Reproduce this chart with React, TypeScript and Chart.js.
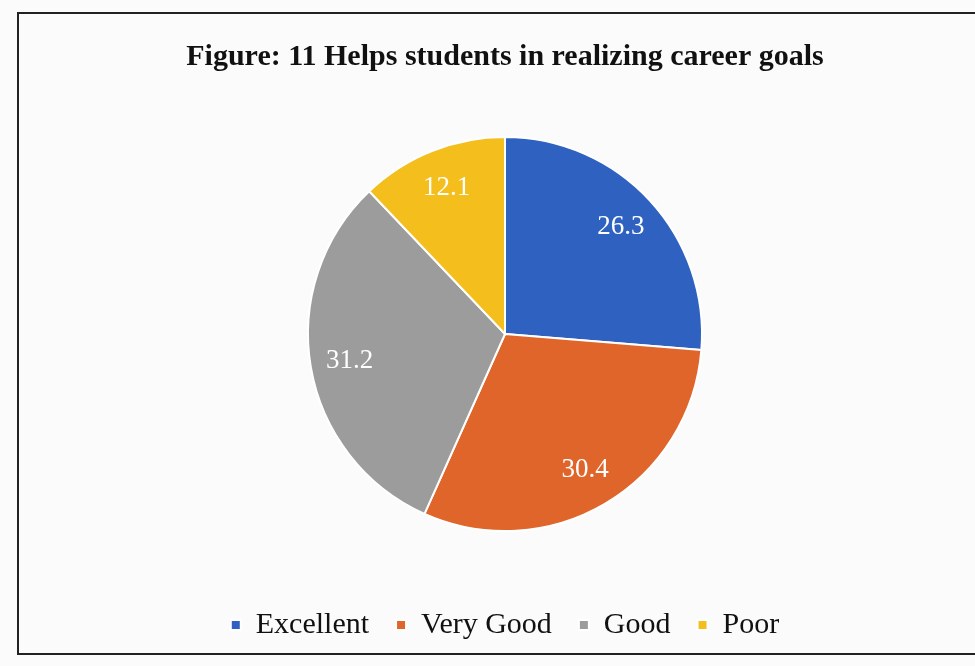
import React, { useEffect, useRef } from "react";
import { Chart, registerables } from "chart.js";

Chart.register(...registerables);

const TITLE = "Figure: 11 Helps students in realizing career goals";
const categories = ["Excellent", "Very Good", "Good", "Poor"];
const values = [26.3, 30.4, 31.2, 12.1];
const colors = ["#2f62c0", "#e0652a", "#9c9c9c", "#f4be1c"];

const labelPlugin = {
  id: "sliceLabels",
  afterDatasetsDraw(chart: any) {
    const ctx = chart.ctx;
    const meta = chart.getDatasetMeta(0);
    ctx.save();
    ctx.fillStyle = "#ffffff";
    ctx.font = "27px 'Liberation Serif', 'Times New Roman', serif";
    ctx.textAlign = "center";
    ctx.textBaseline = "middle";
    meta.data.forEach((arc: any, i: number) => {
      const p = arc.getProps(["x", "y", "startAngle", "endAngle", "outerRadius"], true);
      const mid = (p.startAngle + p.endAngle) / 2;
      const r = p.outerRadius * 0.8;
      ctx.fillText(String(values[i]), p.x + Math.cos(mid) * r, p.y + Math.sin(mid) * r);
    });
    ctx.restore();
  },
};

export default function App() {
  const ref = useRef<HTMLCanvasElement>(null);
  useEffect(() => {
    if (!ref.current) return;
    const chart = new Chart(ref.current, {
      type: "pie",
      data: {
        labels: categories,
        datasets: [
          {
            data: values,
            backgroundColor: colors,
            borderColor: "#ffffff",
            borderWidth: 2,
          },
        ],
      },
      options: {
        responsive: false,
        animation: false,
        radius: 197,
        layout: { padding: { left: 35, right: 0, top: 0, bottom: 16 } },
        plugins: {
          tooltip: { enabled: false },
          title: {
            display: true,
            text: TITLE,
            color: "#111",
            font: { family: "'Liberation Serif', 'Times New Roman', serif", size: 30, weight: "bold", lineHeight: 1.0 },
            padding: { top: 42, bottom: 13 },
          },
          legend: {
            position: "bottom",
            labels: {
              color: "#111",
              boxWidth: 10,
              boxHeight: 10,
              padding: 27,
              font: { family: "'Liberation Serif', 'Times New Roman', serif", size: 30 },
            },
          },
        },
      } as any,
      plugins: [labelPlugin],
    });
    return () => chart.destroy();
  }, []);
  return (
    <div style={{ position: "fixed", left: 0, top: 0, width: 975, height: 666, background: "#fbfbfb", overflow: "hidden" }}>
      <div
        style={{
          position: "absolute",
          left: 17,
          top: 12,
          width: 1000,
          height: 643,
          borderLeft: "2px solid #222",
          borderTop: "2px solid #222",
          borderBottom: "2px solid #222",
          boxSizing: "border-box",
        }}
      />
      <canvas ref={ref} width={975} height={666} style={{ position: "absolute", left: 0, top: 0 }} />
    </div>
  );
}
